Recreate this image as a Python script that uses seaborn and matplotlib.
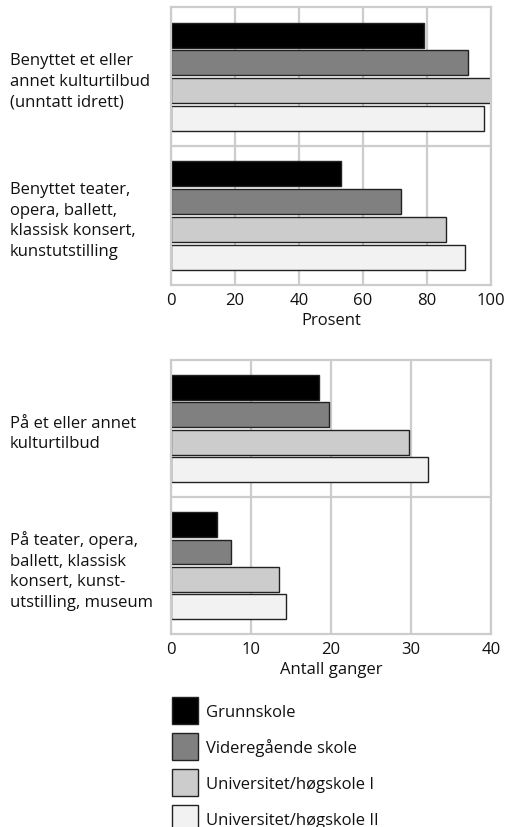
import pandas as pd
import matplotlib.pyplot as plt
import seaborn as sns
from matplotlib.patches import Patch

# Data
levels = ["Grunnskole", "Videregående skole", "Universitet/høgskole I", "Universitet/høgskole II"]
colors = ["#000000", "#808080", "#cccccc", "#f2f2f2"]

share_cats = ["Benyttet et eller\nannet kulturtilbud\n(unntatt idrett)",
              "Benyttet teater,\nopera, ballett,\nklassisk konsert,\nkunstutstilling"]
share_any = [79, 93, 100, 98]
share_arts = [53, 72, 86, 92]

count_cats = ["På et eller annet\nkulturtilbud",
              "På teater, opera,\nballett, klassisk\nkonsert, kunst-\nutstilling, museum"]
count_any = [18.5, 19.8, 29.8, 32.1]
count_arts = [5.75, 7.5, 13.5, 14.4]

share_ticks = [0, 20, 40, 60, 80, 100]
count_ticks = [0, 10, 20, 30, 40]

FS = 12


def long_frame(cats, first, second):
    rows = []
    for cat, vals in zip(cats, [first, second]):
        for lev, v in zip(levels, vals):
            rows.append({"kategori": cat, "niva": lev, "verdi": v})
    return pd.DataFrame(rows)


def draw_panel(ax, df, ticks, xlabel):
    sns.barplot(data=df, y="kategori", x="verdi", hue="niva", hue_order=levels,
                palette=colors, orient="h", width=0.8, gap=0.1,
                edgecolor="#222222", linewidth=1, legend=False, ax=ax)
    ax.set_xlim(ticks[0], ticks[-1])
    ax.set_ylim(1.5, -0.5)
    ax.set_xticks(ticks)
    ax.set_xlabel(xlabel, fontsize=FS, labelpad=3)
    ax.set_ylabel("")
    ax.grid(axis="x", color="#cccccc", linewidth=1.6)
    ax.axhline(0.5, color="#cccccc", linewidth=1.6, zorder=0)
    ax.set_axisbelow(True)
    for s in ax.spines.values():
        s.set_color("#cccccc")
        s.set_linewidth(1.6)
    ax.tick_params(axis="both", length=0, labelsize=FS, labelcolor="#111111")
    ax.tick_params(axis="x", pad=5)
    ax.tick_params(axis="y", pad=116)
    ax.xaxis.label.set_color("#111111")
    for lab in ax.get_yticklabels():
        lab.set_horizontalalignment("left")
        lab.set_multialignment("left")
        lab.set_linespacing(1.4)


sns.set_style("white")
plt.rcParams["font.family"] = ["Open Sans", "DejaVu Sans"]

fig = plt.figure(figsize=(5.06, 8.28), dpi=100)
ax1 = fig.add_axes([0.338, 0.6546, 0.632, 0.3354])
ax2 = fig.add_axes([0.338, 0.233, 0.632, 0.331])

draw_panel(ax1, long_frame(share_cats, share_any, share_arts), share_ticks, "Prosent")
draw_panel(ax2, long_frame(count_cats, count_any, count_arts), count_ticks, "Antall ganger")

handles = [Patch(facecolor=c, edgecolor="#222222", linewidth=1) for c in colors]
leg = fig.legend(handles, levels, loc="upper left", bbox_to_anchor=(0.34, 0.157),
                 frameon=False, fontsize=FS, handlelength=1.56, handleheight=2.1,
                 labelspacing=0.55, handletextpad=0.45, borderaxespad=0, borderpad=0)
for t in leg.get_texts():
    t.set_color("#111111")

fig.savefig("out.png", dpi=100)
